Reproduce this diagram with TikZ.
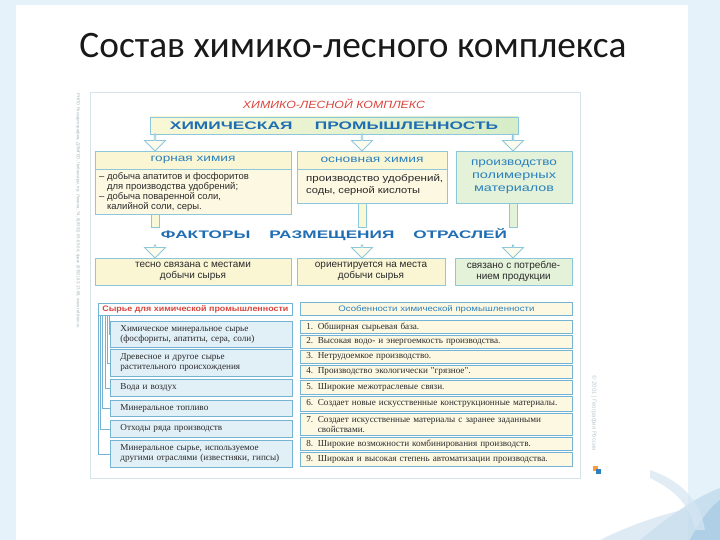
\documentclass[tikz,border=0pt]{standalone}
\usepackage{fontspec}
\usepackage{graphicx}
\setmainfont{Liberation Sans}
\newfontfamily\titlefont{Carlito}
\newfontfamily\serifrm{Liberation Serif}
\usetikzlibrary{shapes.arrows,calc}
\newcommand\fitw[2]{\resizebox{#1}{\height}{#2}}
\definecolor{pagebg}{HTML}{E5F2FA}
\definecolor{bxline}{HTML}{8CC7DC}
\definecolor{cream}{HTML}{FCF8E2}
\definecolor{creamhd}{HTML}{FAF6D4}
\definecolor{greenf}{HTML}{E3F2D9}
\definecolor{topL}{HTML}{F9F8D6}
\definecolor{topR}{HTML}{D5EDC8}
\definecolor{hblue}{HTML}{1F6DB3}
\definecolor{sblue}{HTML}{2B80BD}
\definecolor{tred}{HTML}{D9453C}
\definecolor{ltblue}{HTML}{E1EFF7}
\definecolor{tline}{HTML}{74B3D2}
\definecolor{txt}{HTML}{2A2A2A}
\definecolor{cardline}{HTML}{D5E3EA}
\definecolor{faint}{HTML}{A7B4BA}
\definecolor{arrowf}{HTML}{FDFCEC}
\tikzset{
  bx/.style={draw=bxline, line width=0.8bp, inner sep=0pt, outer sep=0pt, anchor=north west},
  harrow/.style={single arrow, draw=bxline, fill=arrowf, line width=0.8bp,
     minimum width=21bp, single arrow head extend=6bp, single arrow head indent=0pt,
     inner sep=0pt, outer sep=0pt, rotate=-90, anchor=tip},
  pipe/.style={draw=bxline, line width=0.7bp, fill=topL},
  bodytxt/.style={text=txt, font=\fontsize{9.5}{10.3}\selectfont},
  litem/.style={draw=tline, line width=0.8bp, fill=ltblue, anchor=north west, inner xsep=10bp, inner ysep=0pt,
     text width=162bp, align=left, text=txt, font=\serifrm\fontsize{9.2}{10}\selectfont},
  ritem/.style={draw=tline, line width=0.8bp, fill=cream, anchor=north west, inner xsep=6bp, inner ysep=0pt,
     text width=260bp, align=left, text=txt, font=\serifrm\fontsize{9.2}{9.4}\selectfont},
  tree/.style={draw=tline, line width=0.6bp}
}
\begin{document}
\begin{tikzpicture}[x=1bp,y=-1bp]
\useasboundingbox (0,0) rectangle (720,540);
% slide background
\fill[pagebg] (0,0) rectangle (720,540);
\fill[white] (16,5) rectangle (688,540);
% decoration bottom right
\fill[sblue!35, opacity=0.6] (640,540) .. controls (670,515) and (700,495) .. (720,488) -- (720,540) -- cycle;
\fill[sblue!25, opacity=0.6] (600,540) .. controls (640,520) and (690,505) .. (720,505) -- (720,540) -- cycle;
\fill[sblue!50, opacity=0.5] (690,540) .. controls (700,520) and (712,505) .. (720,500) -- (720,540) -- cycle;
\fill[sblue!20, opacity=0.7] (650,470) .. controls (680,480) and (700,500) .. (705,530) -- (695,530) .. controls (690,505) and (675,490) .. (650,478) -- cycle;
% title
\node[font=\titlefont\fontsize{37.5}{38}\selectfont, text=black!90] (title) at (353,46) {Состав химико-лесного комплекса};
% card
\draw[cardline, line width=0.8bp, fill=white] (90,92) rectangle (580,478);
\node[rotate=-90, anchor=west, text=faint, font=\fontsize{4.3}{5}\selectfont] (imprint) at (78,90)
  {РНПО Роскартография, ДЭМГЕО, Чебоксары, пр. Ленина, 74, 8(8352) 63-65-04, факс (8352) 63-17-88, www.ref.dem.ru};
\node[rotate=-90, anchor=west, text=faint!70, font=\fontsize{6}{6}\selectfont] (copyr) at (594,372) {© 2001 | География России};
\fill[orange!80] (593,466) rectangle (598,471);
\fill[sblue] (596,469) rectangle (601,474);
% heading
\node[text=tred, font=\itshape\fontsize{10.5}{11}\selectfont] (head) at (334,104) {\fitw{182bp}{ХИМИКО-ЛЕСНОЙ КОМПЛЕКС}};
\node[bx, minimum width=368bp, minimum height=17bp, left color=topL, right color=topR, text=hblue] (ch) at (150,117)
  {\fitw{328bp}{\fontsize{11}{11}\selectfont\bfseries ХИМИЧЕСКАЯ\hspace{1.3em}ПРОМЫШЛЕННОСТЬ}};
% second row
\coordinate (xL) at (155,0);
\coordinate (xM) at (362,0);
\coordinate (xR) at (513,0);
\node[bx, minimum width=196bp, minimum height=18bp, fill=creamhd, text=sblue] (gh) at (95,151)
  {\fitw{85bp}{\fontsize{10}{10}\selectfont горная химия}};
\node[bx, minimum width=196bp, minimum height=45bp, fill=cream] (ghb) at (95,169) {};
\node[bodytxt, anchor=north west, align=left, inner sep=0pt] (ghtxt) at (99,172)
  {– добыча апатитов и фосфоритов\\\phantom{– }для производства удобрений;\\– добыча поваренной соли,\\\phantom{– }калийной соли, серы.};
\node[bx, minimum width=150bp, minimum height=18bp, fill=creamhd, text=sblue] (oh) at (297,151)
  {\fitw{103bp}{\fontsize{10}{10}\selectfont основная химия}};
\node[bx, minimum width=150bp, minimum height=34bp, fill=cream] (ohb) at (297,169) {};
\node[text=txt, font=\fontsize{9.5}{12.6}\selectfont, anchor=north west, align=left, inner sep=0pt] (ohtxt) at (306,174)
  {\fitw{137bp}{производство удобрений,}\\\fitw{114bp}{соды, серной кислоты}};
\node[bx, minimum width=116bp, minimum height=52bp, fill=greenf, text=sblue, align=center,
  font=\fontsize{10.5}{13}\selectfont] (pm) at (456,151)
  {\fitw{86bp}{производство}\\\fitw{84bp}{полимерных}\\\fitw{80bp}{материалов}};
% arrows from top box
\node[harrow, minimum height=17bp] (a1) at (gh.north -| xL) {};
\node[harrow, minimum height=17bp] (a2) at (oh.north -| xM) {};
\node[harrow, minimum height=17bp] (a3) at (pm.north -| xR) {};
% factors
\node[text=hblue] (fr) at (334,235)
  {\fitw{346bp}{\fontsize{11}{11}\selectfont\bfseries ФАКТОРЫ\hspace{1.1em}РАЗМЕЩЕНИЯ\hspace{1.1em}ОТРАСЛЕЙ}};
\draw[pipe] ($(ghb.south -| xL)+(-4,0)$) rectangle ($(xL)+(4,227)$);
\draw[pipe] ($(ohb.south -| xM)+(-4,0)$) rectangle ($(xM)+(4,227)$);
\draw[pipe, fill=greenf] ($(pm.south -| xR)+(-4,0)$) rectangle ($(xR)+(4,227)$);
% third row
\node[bx, minimum width=196bp, minimum height=27bp, fill=creamhd, text=txt, align=center,
  font=\fontsize{10}{10.6}\selectfont] (t1) at (95,258) {тесно связана с местами\\добычи сырья};
\node[bx, minimum width=148bp, minimum height=27bp, fill=creamhd, text=txt, align=center,
  font=\fontsize{10}{10.6}\selectfont] (t2) at (297,258) {ориентируется на места\\добычи сырья};
\node[bx, minimum width=117bp, minimum height=27bp, fill=greenf, text=txt, align=center,
  font=\fontsize{10}{10.6}\selectfont] (t3) at (455,258) {связано с потребле-\\нием продукции};
\node[harrow, minimum height=13bp] (b1) at (t1.north -| xL) {};
\node[harrow, minimum height=13bp] (b2) at (t2.north -| xM) {};
\node[harrow, minimum height=13bp] (b3) at (t3.north -| xR) {};
% left table
\node[draw=tline, line width=0.8bp, fill=white, anchor=north west, minimum width=194bp, minimum height=12bp, inner sep=0pt,
  text=tred, font=\bfseries\fontsize{8}{8}\selectfont] (sh) at (98,303) {\fitw{186bp}{Сырье для химической промышленности}};
\node[litem, minimum height=26bp] (s1) at (110,321) {Химическое минеральное сырье\\(фосфориты, апатиты, сера, соли)};
\node[litem, minimum height=27bp] (s2) at (110,349) {Древесное и другое сырье\\растительного происхождения};
\node[litem, minimum height=17bp] (s3) at (110,379) {Вода и воздух};
\node[litem, minimum height=16bp] (s4) at (110,400) {Минеральное топливо};
\node[litem, minimum height=17bp] (s5) at (110,420) {Отходы ряда производств};
\node[litem, minimum height=27bp] (s6) at (110,440) {Минеральное сырье, используемое\\другими отраслями (известняки, гипсы)};
\draw[tree] ([xshift=11.5bp]sh.south west) |- (s1.west);
\draw[tree] ([xshift=9.2bp]sh.south west) |- (s2.west);
\draw[tree] ([xshift=6.9bp]sh.south west) |- (s3.west);
\draw[tree] ([xshift=4.6bp]sh.south west) |- (s4.west);
\draw[tree] ([xshift=2.3bp]sh.south west) |- (s5.west);
\draw[tree] ([xshift=0.4bp]sh.south west) |- (s6.west);
% right table
\node[draw=tline, line width=0.8bp, fill=cream, anchor=north west, minimum width=272bp, minimum height=13bp, inner sep=0pt,
  text=sblue, font=\fontsize{8}{8}\selectfont] (rh) at (300,302) {\fitw{196bp}{Особенности химической промышленности}};
\node[ritem, minimum height=13bp] (r1) at (300,320) {1. Обширная сырьевая база.};
\node[ritem, minimum height=13bp] (r2) at (300,335) {2. Высокая водо- и энергоемкость производства.};
\node[ritem, minimum height=13bp] (r3) at (300,350) {3. Нетрудоемкое производство.};
\node[ritem, minimum height=13bp] (r4) at (300,365) {4. Производство экологически "грязное".};
\node[ritem, minimum height=14bp] (r5) at (300,380) {5. Широкие межотраслевые связи.};
\node[ritem, minimum height=15bp] (r6) at (300,396) {6. Создает новые искусственные конструкционные материалы.};
\node[ritem, minimum height=22bp] (r7) at (300,413) {7. Создает искусственные материалы с заранее заданными\\\phantom{7. }свойствами.};
\node[ritem, minimum height=13bp] (r8) at (300,437) {8. Широкие возможности комбинирования производств.};
\node[ritem, minimum height=14bp] (r9) at (300,452) {9. Широкая и высокая степень автоматизации производства.};
\end{tikzpicture}
\end{document}
